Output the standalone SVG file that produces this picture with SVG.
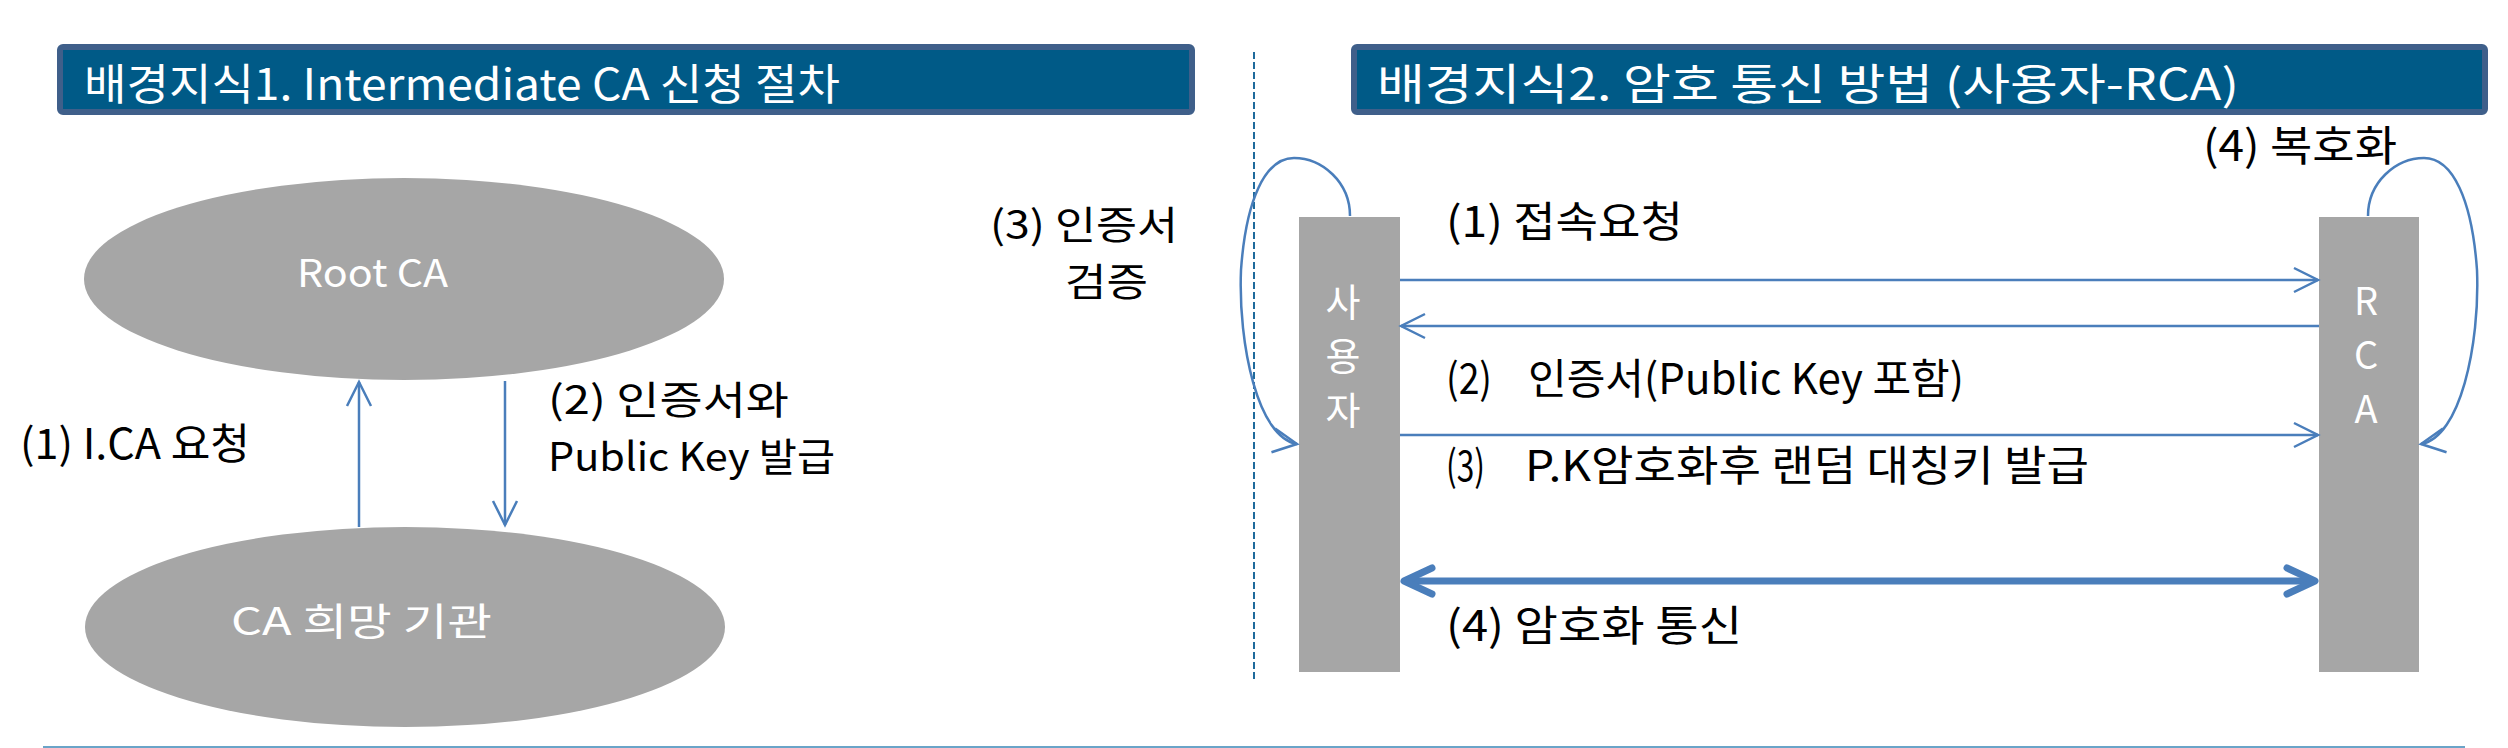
<svg xmlns="http://www.w3.org/2000/svg" width="2508" height="748" viewBox="0 0 2508 748">
<style>
text{font-family:"Noto Sans CJK KR","Noto Sans",sans-serif;}
.hdr{fill:#005a87;stroke:#3f5f8a;stroke-width:6;}
.ht{fill:#ffffff;font-size:43px;}
.shape{fill:#a6a6a6;}
.wt{fill:#ffffff;font-size:38px;}
.lbl{fill:#000000;font-size:42px;}
.lbl2{fill:#000000;font-size:39px;}
.conn{fill:none;stroke:#4a7ebb;stroke-width:2.5;}
.thick{fill:none;stroke:#4a7ebb;stroke-width:7;}
</style>
<defs>
<marker id="ah" markerUnits="userSpaceOnUse" viewBox="-30 -16 34 32" refX="0" refY="0" markerWidth="34" markerHeight="32" orient="auto" overflow="visible">
<path d="M-24,-12 L0,0 L-24,12" fill="none" stroke="#4a7ebb" stroke-width="2.5"/>
</marker>
<marker id="ahb" markerUnits="userSpaceOnUse" viewBox="-36 -20 40 40" refX="0" refY="0" markerWidth="40" markerHeight="40" orient="auto-start-reverse" overflow="visible">
<path d="M-28,-13 L0,0 L-28,13" fill="none" stroke="#4a7ebb" stroke-width="7" stroke-linecap="round" stroke-linejoin="round"/>
</marker>
</defs>
<rect width="2508" height="748" fill="#ffffff"/>

<g id="header1">
<rect class="hdr" x="60" y="47" width="1132" height="65" rx="3"/>
<text class="ht" x="84" y="100" textLength="756" lengthAdjust="spacingAndGlyphs">배경지식1. Intermediate CA 신청  절차</text>
</g>
<g id="header2">
<rect class="hdr" x="1354" y="47" width="1131" height="65" rx="3"/>
<text class="ht" x="1377" y="100" textLength="862" lengthAdjust="spacingAndGlyphs">배경지식2. 암호 통신 방법  (사용자-RCA)</text>
</g>

<g id="divider">
<line x1="1254" y1="52" x2="1254" y2="680" stroke="#1f6a9c" stroke-width="2" stroke-dasharray="7 3"/>
<line x1="43" y1="747" x2="2465" y2="747" stroke="#6aa4c8" stroke-width="2"/>
</g>

<g id="rootca">
<ellipse class="shape" cx="404" cy="279" rx="320" ry="101"/>
<text class="wt" x="297" y="287" textLength="151" lengthAdjust="spacingAndGlyphs">Root CA</text>
</g>
<g id="ca-applicant">
<ellipse class="shape" cx="405" cy="627" rx="320" ry="100"/>
<text class="wt" x="231" y="635" textLength="261" lengthAdjust="spacingAndGlyphs">CA 희망 기관</text>
</g>

<g id="user">
<rect class="shape" x="1299" y="217" width="101" height="455"/>
<text class="wt" x="1343" y="316" text-anchor="middle" font-size="42">사</text>
<text class="wt" x="1343" y="370" text-anchor="middle" font-size="42">용</text>
<text class="wt" x="1343" y="424" text-anchor="middle" font-size="42">자</text>
</g>
<g id="rca">
<rect class="shape" x="2319" y="217" width="100" height="455"/>
<text class="wt" x="2366" y="315" text-anchor="middle" font-size="40">R</text>
<text class="wt" x="2366" y="369" text-anchor="middle" font-size="40">C</text>
<text class="wt" x="2366" y="423" text-anchor="middle" font-size="40">A</text>
</g>

<g id="connectors">
<line class="conn" x1="359" y1="527" x2="359" y2="382" marker-end="url(#ah)"/>
<line class="conn" x1="505" y1="381" x2="505" y2="525" marker-end="url(#ah)"/>
<line class="conn" x1="1400" y1="280" x2="2318" y2="280" marker-end="url(#ah)"/>
<line class="conn" x1="2319" y1="326" x2="1401" y2="326" marker-end="url(#ah)"/>
<line class="conn" x1="1400" y1="435" x2="2318" y2="435" marker-end="url(#ah)"/>
<line class="thick" x1="1404" y1="581" x2="2315" y2="581" marker-start="url(#ahb)" marker-end="url(#ahb)"/>
<path class="conn" d="M1350,216 C1350,182 1322,158 1294,158 C1265,158 1246,200 1241,270 C1238,345 1258,438 1297,444" marker-end="url(#ah)"/>
<path class="conn" d="M2368,216 C2368,182 2396,158 2424,158 C2453,158 2472,200 2477,270 C2480,345 2460,438 2421,444" marker-end="url(#ah)"/>
</g>

<g id="labels">
<text class="lbl" x="20" y="459" textLength="230" lengthAdjust="spacingAndGlyphs">(1) I.CA 요청</text>
<text class="lbl2"><tspan x="548" y="414" textLength="241" lengthAdjust="spacingAndGlyphs">(2) 인증서와</tspan><tspan x="548" y="471" textLength="287" lengthAdjust="spacingAndGlyphs">Public Key  발급</tspan></text>
<text class="lbl2"><tspan x="990" y="239" textLength="188" lengthAdjust="spacingAndGlyphs">(3) 인증서</tspan><tspan x="1065" y="296" textLength="83" lengthAdjust="spacingAndGlyphs">검증</tspan></text>
<text class="lbl" x="2203" y="161" textLength="194" lengthAdjust="spacingAndGlyphs">(4) 복호화</text>
<text class="lbl" x="1446" y="237" textLength="237" lengthAdjust="spacingAndGlyphs">(1) 접속요청</text>
<text class="lbl" x="1446" y="394" textLength="46" lengthAdjust="spacingAndGlyphs">(2)</text>
<text class="lbl" x="1528" y="394" textLength="436" lengthAdjust="spacingAndGlyphs">인증서(Public Key 포함)</text>
<text class="lbl" x="1446" y="481" textLength="39" lengthAdjust="spacingAndGlyphs">(3)</text>
<text class="lbl" x="1525" y="481" textLength="564" lengthAdjust="spacingAndGlyphs">P.K암호화후 랜덤 대칭키 발급</text>
<text class="lbl" x="1446" y="641" textLength="296" lengthAdjust="spacingAndGlyphs">(4) 암호화 통신</text>
</g>
</svg>
